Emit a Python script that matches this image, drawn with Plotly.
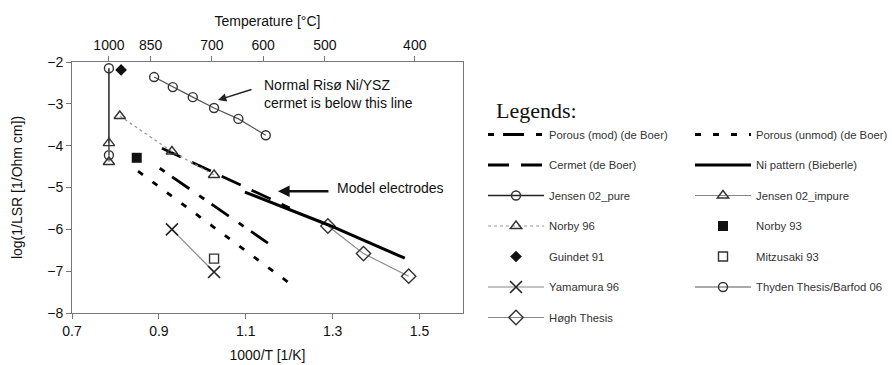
import plotly.graph_objects as go

# ---------------- data ----------------
porous_mod_x = [0.902, 1.151]
porous_mod_y = [-4.54, -6.33]
porous_unmod_x = [0.852, 1.201]
porous_unmod_y = [-4.61, -7.29]
cermet_x = [0.907, 1.201]
cermet_y = [-4.06, -5.49]
ni_pattern_x = [1.098, 1.289, 1.466]
ni_pattern_y = [-5.11, -5.89, -6.69]
jensen_pure_x = [0.785, 0.785]
jensen_pure_y = [-2.15, -4.23]
jensen_impure_x = [0.785, 0.785]
jensen_impure_y = [-3.94, -4.39]
norby96_x = [0.81, 0.93, 1.027]
norby96_y = [-3.29, -4.14, -4.70]
norby93_x = [0.849]
norby93_y = [-4.29]
guindet91_x = [0.813]
guindet91_y = [-2.19]
mitzusaki93_x = [1.027]
mitzusaki93_y = [-6.70]
yamamura96_x = [0.93, 1.027]
yamamura96_y = [-6.00, -7.02]
thyden_x = [0.889, 0.932, 0.978, 1.027, 1.083, 1.146]
thyden_y = [-2.36, -2.60, -2.84, -3.10, -3.36, -3.75]
hogh_x = [1.289, 1.371, 1.475]
hogh_y = [-5.92, -6.58, -7.12]

temp_labels = ["1000", "850", "700", "600", "500", "400"]
temp_pos = [0.785, 0.881, 1.022, 1.140, 1.282, 1.489]

FONT = "Liberation Sans, Arial, sans-serif"

fig = go.Figure()

def add(x, y, name, legend, mode="lines", line=None, marker=None):
    fig.add_trace(go.Scatter(
        x=x, y=y, name=name, mode=mode, line=line, marker=marker,
        legend=legend, legendgroup=name, showlegend=True, hoverinfo="skip"))

# column 1 legend entries
add(porous_mod_x, porous_mod_y, "Porous (mod) (de Boer)", "legend",
    line=dict(color="black", width=2.8, dash="6px,9px,21px,12px"))
add(cermet_x, cermet_y, "Cermet (de Boer)", "legend",
    line=dict(color="black", width=2.8, dash="21px,12px"))
add(jensen_pure_x, jensen_pure_y, "Jensen 02_pure", "legend", mode="lines+markers",
    line=dict(color="#222", width=1.5),
    marker=dict(symbol="circle-open", size=9, color="#333", line=dict(width=1.4)))
add(norby96_x, norby96_y, "Norby 96", "legend", mode="lines+markers",
    line=dict(color="#999", width=1.2, dash="dot"),
    marker=dict(symbol="triangle-up-open", size=10, color="#333", line=dict(width=1.4)))
add(guindet91_x, guindet91_y, "Guindet 91", "legend", mode="markers",
    marker=dict(symbol="diamond", size=9, color="#111"))
add(yamamura96_x, yamamura96_y, "Yamamura 96", "legend", mode="lines+markers",
    line=dict(color="#888", width=1.2),
    marker=dict(symbol="x-thin-open", size=12, color="#222", line=dict(width=1.6, color="#222")))
add(hogh_x, hogh_y, "Høgh Thesis", "legend", mode="lines+markers",
    line=dict(color="#888", width=1.2),
    marker=dict(symbol="diamond-open", size=11, color="#333", line=dict(width=1.4)))

# column 2 legend entries
add(porous_unmod_x, porous_unmod_y, "Porous (unmod) (de Boer)", "legend2",
    line=dict(color="black", width=2.8, dash="6px,12px"))
add(ni_pattern_x, ni_pattern_y, "Ni pattern (Bieberle)", "legend2",
    line=dict(color="black", width=3))
add(jensen_impure_x, jensen_impure_y, "Jensen 02_impure", "legend2", mode="lines+markers",
    line=dict(color="#888", width=1.2),
    marker=dict(symbol="triangle-up-open", size=10, color="#333", line=dict(width=1.4)))
add(norby93_x, norby93_y, "Norby 93", "legend2", mode="markers",
    marker=dict(symbol="square", size=10, color="#111"))
add(mitzusaki93_x, mitzusaki93_y, "Mitzusaki 93", "legend2", mode="markers",
    marker=dict(symbol="square-open", size=9, color="#333", line=dict(width=1.4)))
add(thyden_x, thyden_y, "Thyden Thesis/Barfod 06", "legend2", mode="lines+markers",
    line=dict(color="#555", width=1.2),
    marker=dict(symbol="circle-open", size=9, color="#333", line=dict(width=1.4)))

# invisible trace to activate the top axis
fig.add_trace(go.Scatter(x=temp_pos, y=[None] * len(temp_pos), xaxis="x2",
                         showlegend=False, hoverinfo="skip"))

L, R, T, B = 72, 429, 62, 52
W, H = 892, 365
pw = W - L - R
ph = H - T - B

def px_x(p):
    return (p - L) / pw

def px_y(p):
    return (H - B - p) / ph

legend_common = dict(
    orientation="v", xanchor="left", yanchor="top",
    tracegroupgap=11.5, itemwidth=56, itemsizing="trace",
    bgcolor="rgba(0,0,0,0)", borderwidth=0,
    font=dict(family=FONT, size=11.3, color="#333"),
)

fig.update_layout(
    width=W, height=H,
    margin=dict(l=L, r=R, t=T, b=B, autoexpand=False),
    paper_bgcolor="white", plot_bgcolor="white",
    font=dict(family=FONT, size=14, color="#111"),
    legend=dict(x=px_x(483), y=px_y(120), **legend_common),
    legend2=dict(x=px_x(690), y=px_y(120), **legend_common),
    xaxis=dict(range=[0.7, 1.6], tick0=0.7, dtick=0.2, tickformat=".1f",
               showgrid=False, zeroline=False, showline=True, linecolor="#777",
               linewidth=1, mirror=True, ticks="outside", ticklen=5, tickcolor="#777",
               automargin=False,
               title=dict(text="1000/T [1/K]", standoff=12, font=dict(size=14))),
    xaxis2=dict(range=[0.7, 1.6], overlaying="x", side="top", anchor="y",
                tickmode="array", tickvals=temp_pos, ticktext=temp_labels,
                showgrid=False, zeroline=False, showline=False, automargin=False,
                ticks="outside", ticklen=5, tickcolor="#777",
                title=dict(text="Temperature [°C]", standoff=7, font=dict(size=14))),
    yaxis=dict(range=[-8, -2], dtick=1, showgrid=False, zeroline=False,
               showline=True, linecolor="#777", linewidth=1, mirror=True,
               ticks="outside", ticklen=5, tickcolor="#777", automargin=False,
               title=dict(text="log(1/LSR [1/Ohm cm])", standoff=21, font=dict(size=14))),
    annotations=[
        dict(x=1.137, y=-2.77, xref="x", yref="y", xanchor="left", yanchor="middle",
             align="left", showarrow=False,
             text="Normal Risø Ni/YSZ<br>cermet is below this line",
             font=dict(family=FONT, size=14, color="#111")),
        dict(x=1.036, y=-2.91, xref="x", yref="y", text="", showarrow=True,
             ax=35, ay=-11, arrowhead=2, arrowsize=1.2, arrowwidth=1.4, arrowcolor="#222",
             standoff=0),
        dict(x=1.305, y=-5.01, xref="x", yref="y", xanchor="left", yanchor="middle",
             showarrow=False, text="Model electrodes",
             font=dict(family=FONT, size=14, color="#111")),
        dict(x=1.174, y=-5.09, xref="x", yref="y", text="", showarrow=True,
             ax=52, ay=0, arrowhead=2, arrowsize=0.9, arrowwidth=2.6, arrowcolor="#111",
             standoff=0),
        dict(x=px_x(494), y=px_y(110), xref="paper", yref="paper", xanchor="left",
             yanchor="middle", showarrow=False, text="Legends:",
             font=dict(family="Liberation Serif, Times New Roman, serif", size=22, color="#111")),
    ],
)

fig.write_html("out.html")
